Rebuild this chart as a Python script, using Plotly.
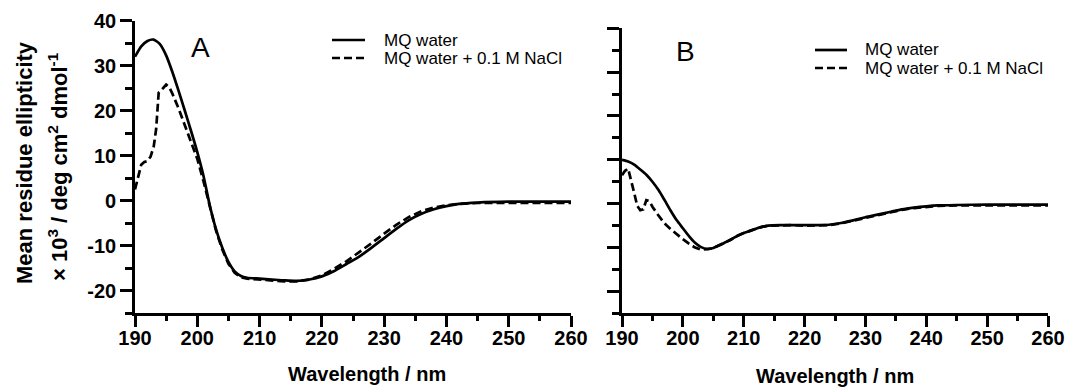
import plotly.graph_objects as go

# ---------------- data ----------------
series_names = ["MQ water", "MQ water + 0.1 M NaCl"]
panel_labels = ["A", "B"]
x_title = "Wavelength / nm"
y_title_line1 = "Mean residue ellipticity"
y_title_line2 = "× 10<sup>3</sup> / deg cm<sup>2</sup> dmol<sup>-1</sup>"

x_tickvals = [190, 200, 210, 220, 230, 240, 250, 260]
x_ticktext = ["190", "200", "210", "220", "230", "240", "250", "260"]
y_tickvals = [-20, -10, 0, 10, 20, 30, 40]
y_ticktext = ["-20", "-10", "0", "10", "20", "30", "40"]

# Panel A, MQ water
wl_A_mq = [190, 191, 192, 193, 194, 195, 196, 197, 198, 199, 200, 201, 202, 203, 204,
           205, 206, 207, 208, 210, 212, 214, 216, 218, 220, 222, 224, 226, 228, 230,
           232, 234, 236, 238, 240, 242, 245, 250, 255, 260]
A_mq = [32.0, 34.3, 35.5, 35.8, 34.8, 32.3, 28.6, 24.4, 20.0, 15.5, 10.8, 5.5, -1.0, -6.3, -10.4,
        -13.6, -15.7, -16.7, -17.1, -17.3, -17.5, -17.7, -17.8, -17.5, -16.8, -15.6, -14.0, -12.4, -10.4, -8.3,
        -6.2, -4.3, -2.9, -1.9, -1.2, -0.7, -0.4, -0.2, -0.2, -0.2]

# Panel A, MQ water + 0.1 M NaCl
wl_A_nacl = [190, 190.5, 191, 191.5, 192, 192.5, 193, 193.4, 193.8, 194.5, 195, 195.5, 196, 197,
             198, 199, 200, 201, 202, 203, 204, 205, 206, 207, 208, 210, 212, 214, 216, 218,
             220, 222, 224, 226, 228, 230, 232, 234, 236, 238, 240, 242, 245, 250, 255, 260]
A_nacl = [2.5, 5.5, 8.0, 8.6, 8.8, 9.8, 12.0, 16.0, 24.0, 25.0, 25.8, 25.2, 23.8, 20.5,
          16.8, 13.0, 9.3, 4.3, -1.3, -6.6, -10.8, -14.0, -16.0, -17.0, -17.3, -17.5, -17.7, -17.9, -17.9, -17.5,
          -16.6, -15.1, -13.4, -11.5, -9.4, -7.3, -5.3, -3.6, -2.3, -1.5, -1.0, -0.7, -0.5, -0.5, -0.5, -0.5]

# Panel B, MQ water
wl_B_mq = [190, 191, 192, 193, 194, 195, 196, 197, 198, 199, 200, 201, 202, 203, 204,
           205, 206, 207, 208, 209, 210, 211, 212, 213, 214, 216, 218, 220, 222, 224,
           226, 228, 230, 232, 234, 236, 238, 240, 242, 245, 250, 255, 260]
B_mq = [10.0, 9.6, 8.9, 7.8, 6.6, 5.0, 3.1, 0.8, -1.6, -3.8, -5.6, -7.4, -8.9, -9.9, -10.3,
        -10.1, -9.5, -8.8, -8.1, -7.3, -6.7, -6.2, -5.7, -5.3, -5.0, -4.9, -4.9, -4.9, -4.9, -4.8,
        -4.4, -3.8, -3.1, -2.5, -1.9, -1.3, -0.9, -0.6, -0.4, -0.3, -0.2, -0.2, -0.2]

# Panel B, MQ water + 0.1 M NaCl
wl_B_nacl = [190, 190.5, 191, 191.5, 192, 192.5, 193, 193.5, 194, 194.5, 195, 196, 197, 198,
             199, 200, 201, 202, 203, 204, 205, 206, 207, 208, 209, 210, 211, 212, 213, 214,
             216, 218, 220, 222, 224, 226, 228, 230, 232, 234, 236, 238, 240, 242, 245, 250, 255, 260]
B_nacl = [6.5, 7.5, 8.0, 5.5, 2.5, -0.5, -1.5, -1.3, 0.8, 0.6, -0.7, -2.7, -4.5, -5.8,
          -7.0, -8.1, -9.1, -10.0, -10.5, -10.4, -10.1, -9.5, -8.8, -8.1, -7.3, -6.7, -6.2, -5.7, -5.3, -5.0,
          -4.9, -4.9, -5.0, -5.0, -4.9, -4.5, -3.9, -3.2, -2.6, -2.0, -1.4, -1.0, -0.7, -0.5, -0.4, -0.4, -0.4, -0.4]

# ---------------- figure ----------------
FONT = "Liberation Sans, Arial, sans-serif"
W, H = 1068, 387

fig = go.Figure()

line_solid = dict(color="black", width=2.7)
line_dash = dict(color="black", width=2.7, dash="8px,4px")

fig.add_trace(go.Scatter(x=wl_A_mq, y=A_mq, mode="lines", name=series_names[0],
                         line=dict(**line_solid, shape="spline", smoothing=0.6),
                         xaxis="x", yaxis="y", showlegend=False))
fig.add_trace(go.Scatter(x=wl_A_nacl, y=A_nacl, mode="lines", name=series_names[1],
                         line=line_dash, xaxis="x", yaxis="y", showlegend=False))
fig.add_trace(go.Scatter(x=wl_B_mq, y=B_mq, mode="lines", name=series_names[0],
                         line=dict(**line_solid, shape="spline", smoothing=0.6),
                         xaxis="x2", yaxis="y2", showlegend=False))
fig.add_trace(go.Scatter(x=wl_B_nacl, y=B_nacl, mode="lines", name=series_names[1],
                         line=line_dash, xaxis="x2", yaxis="y2", showlegend=False))

tickfont = dict(family=FONT, size=20, color="black", weight="bold")

def xaxis_cfg(domain, anchor):
    return dict(domain=domain, anchor=anchor, range=[190, 260],
                tickmode="array", tickvals=x_tickvals, ticktext=x_ticktext,
                ticks="outside", ticklen=11, tickwidth=2.7, tickcolor="black",
                ticklabelstandoff=-6,
                showline=True, linewidth=2.7, linecolor="black",
                showgrid=False, zeroline=False, tickfont=tickfont, automargin=False,
                minor=dict(ticks="outside", ticklen=5, tickwidth=2.7, tickcolor="black",
                           tickmode="linear", tick0=190, dtick=5, showgrid=False))

def yaxis_cfg(domain, anchor, labels):
    return dict(domain=domain, anchor=anchor, range=[-25, 40],
                tickmode="array", tickvals=y_tickvals, ticktext=y_ticktext,
                showticklabels=labels,
                ticks="outside", ticklen=12, tickwidth=2.7, tickcolor="black",
                showline=True, linewidth=2.7, linecolor="black",
                showgrid=False, zeroline=False, tickfont=tickfont, automargin=False,
                minor=dict(ticks="outside", ticklen=7, tickwidth=2.7, tickcolor="black",
                           tickmode="linear", tick0=0, dtick=5, showgrid=False))

fig.update_layout(
    width=W, height=H,
    margin=dict(l=0, r=0, t=0, b=0),
    paper_bgcolor="white", plot_bgcolor="white",
    font=dict(family=FONT, color="black"),
    xaxis=xaxis_cfg([135 / W, 571 / W], "y"),
    yaxis=yaxis_cfg([1 - 313.3 / H, 1 - 20.7 / H], "x", True),
    xaxis2=xaxis_cfg([622 / W, 1048 / W], "y2"),
    yaxis2=yaxis_cfg([1 - 313.3 / H, 1 - 28.3 / H], "x2", False),
    showlegend=False,
)

# Legend keys (one per panel): sample line + label
legend_keys = [
    # (line x0, line x1, text x, row1 y, row2 y)  in pixels
    (332, 365, 382, 40, 58),
    (815, 847, 863, 50, 68),
]
shapes = []
annotations = []
for (lx0, lx1, tx, r1, r2) in legend_keys:
    for name, ry, dash in [(series_names[0], r1, "solid"), (series_names[1], r2, "8px,4px")]:
        shapes.append(dict(type="line", xref="paper", yref="paper",
                           x0=lx0 / W, x1=lx1 / W, y0=1 - ry / H, y1=1 - ry / H,
                           line=dict(color="black", width=2.7, dash=dash)))
        annotations.append(dict(text=name, x=tx / W, y=1 - ry / H, xref="paper", yref="paper",
                                showarrow=False, xanchor="left", yanchor="middle",
                                font=dict(family=FONT, size=17, color="black")))

bold = dict(family=FONT, size=20, color="black", weight="bold")
annotations += [
    dict(text=x_title, x=367 / W, y=1 - 374 / H, xref="paper", yref="paper",
         showarrow=False, xanchor="center", yanchor="middle", font=bold),
    dict(text=x_title, x=835 / W, y=1 - 375.5 / H, xref="paper", yref="paper",
         showarrow=False, xanchor="center", yanchor="middle", font=bold),
    dict(text=y_title_line1, x=25 / W, y=1 - 163 / H, xref="paper", yref="paper",
         showarrow=False, xanchor="center", yanchor="middle", textangle=-90,
         font=dict(family=FONT, size=22, color="black", weight="bold")),
    dict(text=y_title_line2, x=58 / W, y=1 - 167 / H, xref="paper", yref="paper",
         showarrow=False, xanchor="center", yanchor="middle", textangle=-90,
         font=dict(family=FONT, size=22, color="black", weight="bold")),
    dict(text=panel_labels[0], x=200 / W, y=1 - 47 / H, xref="paper", yref="paper",
         showarrow=False, xanchor="center", yanchor="middle",
         font=dict(family=FONT, size=28, color="black")),
    dict(text=panel_labels[1], x=685 / W, y=1 - 52 / H, xref="paper", yref="paper",
         showarrow=False, xanchor="center", yanchor="middle",
         font=dict(family=FONT, size=28, color="black")),
]
fig.update_layout(annotations=annotations, shapes=shapes)

fig.write_html("out.html")
